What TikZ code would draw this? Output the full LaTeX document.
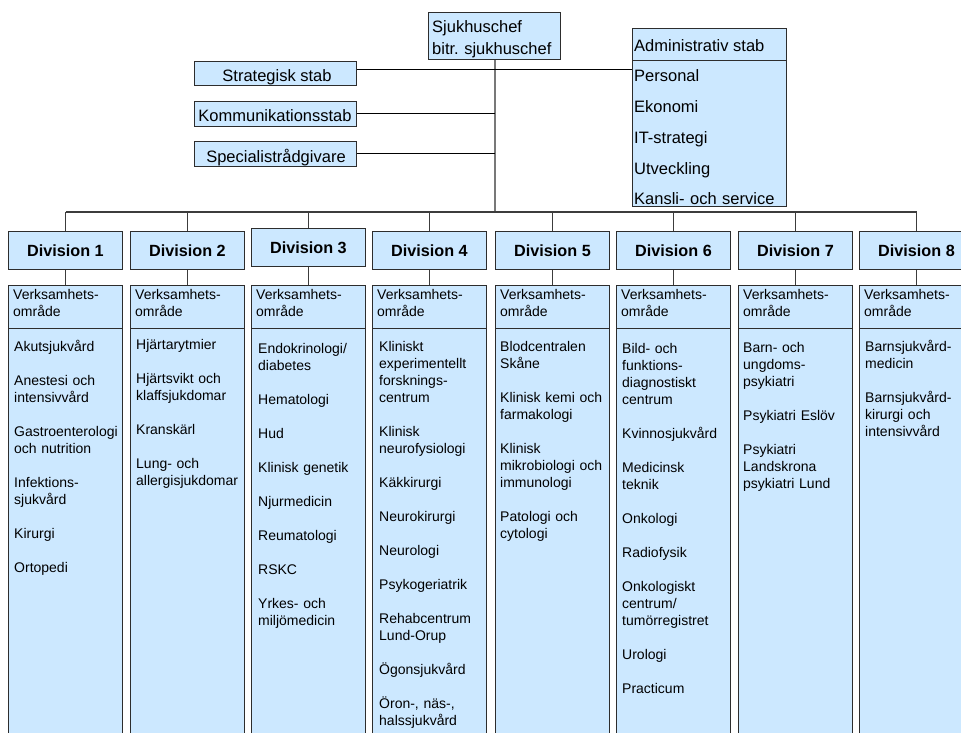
\documentclass[tikz,border=0pt]{standalone}
\usepackage{fontspec}
\setmainfont{Liberation Sans}
\frenchspacing
\definecolor{boxfill}{RGB}{204,232,255}
\definecolor{boxline}{RGB}{45,45,45}
\definecolor{trunk}{RGB}{120,120,120}
\definecolor{branch}{RGB}{60,60,60}
\newcommand\gap{\\[17pt]}
% one division: header, "Verksamhetsområde" box, list box and the ticks joining them
% #1 number, #2 left edge, #3 top of header box
\newcommand\divcol[3]{%
  \node[box, headfont, anchor=north west, minimum width=114pt, minimum height=38pt] (head#1) at (#2,#3) {Division #1};
  \node[box, anchor=north west, minimum width=114pt, minimum height=43pt] (area#1) at (#2,285) {};
  \node[listtext] (areatxt#1) at (#2+5,299) {Verksamhets-\\område};
  \node[box, anchor=north west, minimum width=114pt, minimum height=430pt] (list#1) at (#2,328) {};
  \draw[branchline] (head#1.south) -- (area#1.north);
  \draw[branchline] (head#1.north) -- (head#1.north |- bus);
}
\begin{document}
\begin{tikzpicture}[x=1pt,y=-1pt,
  box/.style={draw=boxline, fill=boxfill, line width=1pt, inner sep=0pt},
  topfont/.style={font=\fontsize{16.5}{22}\selectfont},
  headfont/.style={font=\fontsize{16.2}{19}\selectfont\bfseries},
  listtext/.style={anchor=base west, inner sep=0pt, text width=112pt, align=left,
    font=\fontsize{14}{17}\selectfont},
  toptext/.style={topfont, inner sep=0pt},
  conn/.style={draw=black, line width=1pt},
  branchline/.style={draw=branch, line width=1.2pt},
  trunkline/.style={draw=trunk, line width=2pt}]
\useasboundingbox (0,0) rectangle (961,733);
\coordinate (bus) at (0,212);

% management and staff
\node[box, anchor=north west, minimum width=132pt, minimum height=47pt] (chief) at (428,12) {};
\node[toptext, anchor=base west, text width=130pt, align=left] (chieftxt) at (432,33) {Sjukhuschef\\[-0.5pt]bitr. sjukhuschef};

\node[box, anchor=north west, minimum width=162pt, minimum height=24pt] (strat) at (194,61) {};
\node[toptext, anchor=base] (strattxt) at (277,82) {Strategisk stab};
\node[box, anchor=north west, minimum width=162pt, minimum height=25pt] (komm) at (194,101) {};
\node[toptext, anchor=base] (kommtxt) at (275,122) {Kommunikationsstab};
\node[box, anchor=north west, minimum width=162pt, minimum height=25pt] (spec) at (194,141) {};
\node[toptext, anchor=base] (spectxt) at (276,162) {Specialistrådgivare};

\node[box, anchor=north west, minimum width=154pt, minimum height=178pt] (admin) at (632,28) {};
\draw[draw=boxline, line width=1pt] ([yshift=-33pt]admin.north west) -- ([yshift=-33pt]admin.north east);
\node[toptext, anchor=base west] (admintxt) at (634,52) {Administrativ stab};
\node[toptext, anchor=base west, text width=150pt, align=left,
  font=\fontsize{16.5}{30.75}\selectfont] (adminitems) at (634,82)
  {Personal\\Ekonomi\\IT-strategi\\Utveckling\\Kansli- och service};

% connectors at the top
\draw[trunkline] (chief.south) -- (chief.south |- bus);
\draw[conn] ([yshift=4pt]strat.east) -- ([yshift=4pt]strat.east -| admin.west);
\draw[conn] (komm.east) -- (komm.east -| chief.south);
\draw[conn] (spec.east) -- (spec.east -| chief.south);

% divisions
\divcol{1}{8}{231}
\divcol{2}{130}{231}
\divcol{3}{251}{228}
\divcol{4}{372}{231}
\divcol{5}{495}{231}
\divcol{6}{616}{231}
\divcol{7}{738}{231}
\divcol{8}{859}{231}
\draw[branchline] (head1.north |- bus) -- (head8.north |- bus);

% units of each division
\node[listtext] (items1) at (14,351) {Akutsjukvård\gap Anestesi och\\intensivvård\gap
  Gastroenterologi\\och nutrition\gap Infektions-\\sjukvård\gap Kirurgi\gap Ortopedi};
\node[listtext] (items2) at (136,349) {Hjärtarytmier\gap Hjärtsvikt och\\klaffsjukdomar\gap
  Kranskärl\gap Lung- och\\allergisjukdomar};
\node[listtext] (items3) at (258,353) {Endokrinologi/\\diabetes\gap Hematologi\gap Hud\gap
  Klinisk genetik\gap Njurmedicin\gap Reumatologi\gap RSKC\gap Yrkes- och\\miljömedicin};
\node[listtext] (items4) at (379,351) {Kliniskt\\experimentellt\\forsknings-\\centrum\gap
  Klinisk\\neurofysiologi\gap Käkkirurgi\gap Neurokirurgi\gap Neurologi\gap
  Psykogeriatrik\gap Rehabcentrum\\Lund-Orup\gap Ögonsjukvård\gap Öron-, näs-,\\halssjukvård};
\node[listtext] (items5) at (500,351) {Blodcentralen\\Skåne\gap Klinisk kemi och\\farmakologi\gap
  Klinisk\\mikrobiologi och\\immunologi\gap Patologi och\\cytologi};
\node[listtext] (items6) at (622,353) {Bild- och\\funktions-\\diagnostiskt\\centrum\gap
  Kvinnosjukvård\gap Medicinsk\\teknik\gap Onkologi\gap Radiofysik\gap
  Onkologiskt\\centrum/\\tumörregistret\gap Urologi\gap Practicum};
\node[listtext] (items7) at (743,352) {Barn- och\\ungdoms-\\psykiatri\gap Psykiatri Eslöv\gap
  Psykiatri\\Landskrona\\psykiatri Lund};
\node[listtext] (items8) at (865,351) {Barnsjukvård-\\medicin\gap Barnsjukvård-\\kirurgi och\\intensivvård};
\end{tikzpicture}
\end{document}
